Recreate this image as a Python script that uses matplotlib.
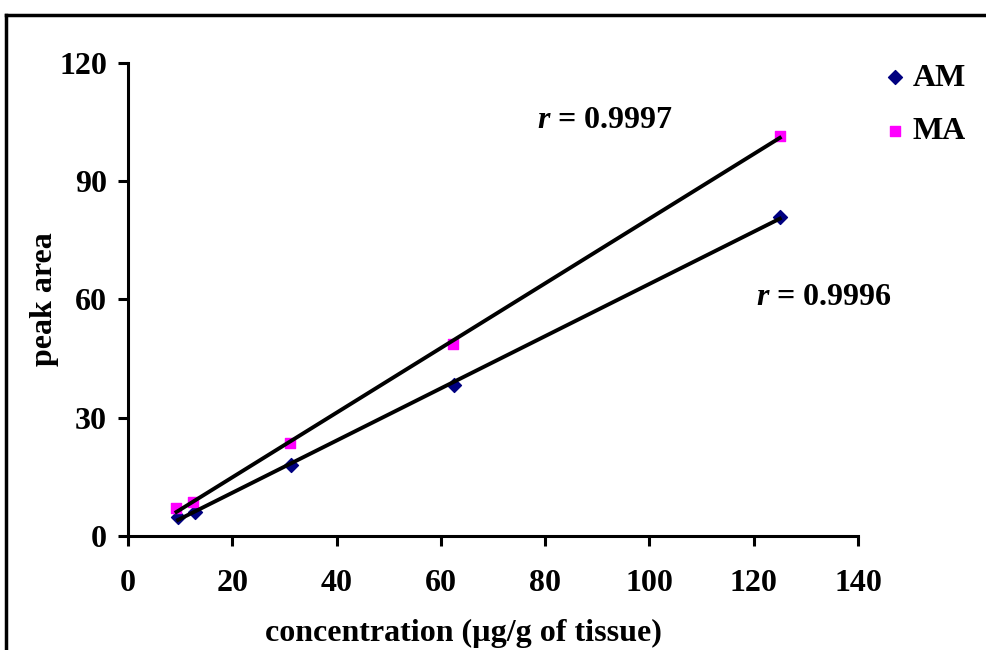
import numpy as np
import matplotlib
matplotlib.use("Agg")
import matplotlib.pyplot as plt
from matplotlib.lines import Line2D

# data
am_x = [9.6, 12.8, 31.25, 62.5, 125]
am_y = [4.9, 6.2, 18.0, 38.2, 81.0]
ma_x = [9.3, 12.4, 31.1, 62.3, 125]
ma_y = [7.0, 8.6, 23.5, 48.7, 101.5]
x_ticks = [0, 20, 40, 60, 80, 100, 120, 140]
y_ticks = [0, 30, 60, 90, 120]

plt.rcParams['font.family'] = ['Liberation Serif', 'DejaVu Serif']
plt.rcParams['font.weight'] = 'bold'
plt.rcParams['mathtext.fontset'] = 'custom'
plt.rcParams['mathtext.it'] = 'Liberation Serif:italic:bold'
plt.rcParams['mathtext.rm'] = 'Liberation Serif:bold'

FS = 23

fig = plt.figure(figsize=(9.86, 6.5), dpi=100)
ax = fig.add_axes([0.1298, 0.1754, 0.7404, 0.7277])

ax.scatter(am_x, am_y, marker='D', s=50, color='#000080', label='AM', zorder=3)
ax.scatter(ma_x, ma_y, marker='s', s=60, color='#FF00FF', label='MA', zorder=3)

# linear trend lines
for xs, ys in [(am_x, am_y), (ma_x, ma_y)]:
    k, b = np.polyfit(xs, ys, 1)
    xx = np.array([min(xs), max(xs)])
    ax.plot(xx, k * xx + b, color='black', lw=2.8, zorder=4)

ax.set_xlim(0, 140)
ax.set_ylim(0, 120)
ax.set_xticks(x_ticks)
ax.set_yticks(y_ticks)
ax.tick_params(labelsize=FS, width=2.2, length=7, direction='out')
ax.tick_params(axis='x', pad=17)
ax.tick_params(axis='y', pad=8)
for lab in ax.get_xticklabels() + ax.get_yticklabels():
    lab.set_fontweight('bold')
for s in ['top', 'right']:
    ax.spines[s].set_visible(False)
for s in ['left', 'bottom']:
    ax.spines[s].set_linewidth(2.2)

ax.set_xlabel('concentration (µg/g of tissue)', fontsize=FS, fontweight='bold')
ax.xaxis.set_label_coords(0.46, -0.175)
ax.set_ylabel('peak area', fontsize=FS, fontweight='bold', labelpad=0)

ax.text(91.5, 105.5, r'$r$ = 0.9997', fontsize=FS, fontweight='bold', ha='center', va='center')
ax.text(133.5, 60.5, r'$r$ = 0.9996', fontsize=FS, fontweight='bold', ha='center', va='center')

leg = ax.legend(loc='upper left', bbox_to_anchor=(1.003, 1.04), frameon=False,
                prop={'size': FS, 'weight': 'bold'}, handletextpad=0.05,
                labelspacing=0.75, borderaxespad=0.2, handlelength=1.0)

# outer frame (only left and top edges visible in the picture)
fig.add_artist(Line2D([0.0065, 0.0065], [0, 0.977], color='black', lw=2.5, transform=fig.transFigure))
fig.add_artist(Line2D([0.0065, 1.0], [0.977, 0.977], color='black', lw=2.5, transform=fig.transFigure))

fig.savefig('out.png', dpi=100)
